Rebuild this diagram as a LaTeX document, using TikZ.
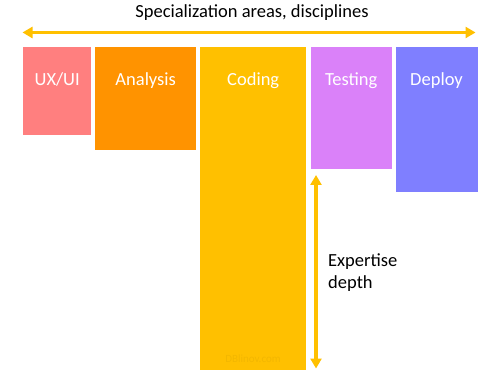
\documentclass[tikz,border=0pt]{standalone}
\usepackage{fontspec}
\setmainfont{Carlito}
\usetikzlibrary{arrows.meta,calc}
\definecolor{cux}{HTML}{FF7F7F}
\definecolor{can}{HTML}{FF9300}
\definecolor{ccod}{HTML}{FFC000}
\definecolor{ctst}{HTML}{DA81F9}
\definecolor{cdep}{HTML}{7F7FFF}
\definecolor{cwm}{HTML}{F3B700}
\begin{document}
\begin{tikzpicture}[x=1pt,y=-1pt,
  box/.style={draw=none,inner sep=0pt,anchor=north west},
  lab/.style={anchor=base,text=white,font=\fontsize{18.5}{22}\selectfont,inner sep=0pt},
  txt/.style={font=\fontsize{18.5}{22.5}\selectfont,inner sep=0pt},
  yarrow/.style={draw=ccod,line width=3.5pt,{Triangle[length=10pt,width=11pt]}-{Triangle[length=10pt,width=11pt]}}]
\useasboundingbox[fill=white] (0,0) rectangle (481,371);
\node[txt,anchor=base] (title) at (252,17.5) {Specialization areas, disciplines};
\coordinate (hl) at (22.5,32.5);
\coordinate (hr) at (475.5,32.5);
\draw[yarrow] (hl) -- (hr);
\node[box,fill=cux,minimum width=68pt,minimum height=88pt] (ux) at (23,47) {};
\node[box,fill=can,minimum width=101pt,minimum height=103pt] (an) at (95,47) {};
\node[box,fill=ccod,minimum width=106pt,minimum height=323pt] (cod) at (200,47) {};
\node[box,fill=ctst,minimum width=81pt,minimum height=122pt] (tst) at (310.5,47) {};
\node[box,fill=cdep,minimum width=82pt,minimum height=145pt] (dep) at (395.3,47) {};
\node[lab] (uxl) at ($(ux.north)+(0,39)$) {UX/UI};
\node[lab] (anl) at ($(an.north)+(0,39)$) {Analysis};
\node[lab] (codl) at ($(cod.north)+(0,39)$) {Coding};
\node[lab] (tstl) at ($(tst.north)+(0,39)$) {Testing};
\node[lab] (depl) at ($(dep.north)+(0,39)$) {Deploy};
\node[anchor=base,inner sep=0pt,text=cwm,font=\fontsize{11}{13}\selectfont] (wm) at (253,362) {DBlinov.com};
\coordinate (vt) at (316,175);
\coordinate (vb) at (316,368.5);
\draw[yarrow] (vb) -- (vt);
\node[txt,anchor=base west,align=left] (exp) at (328,288.5) {Expertise\\depth};
\end{tikzpicture}
\end{document}
